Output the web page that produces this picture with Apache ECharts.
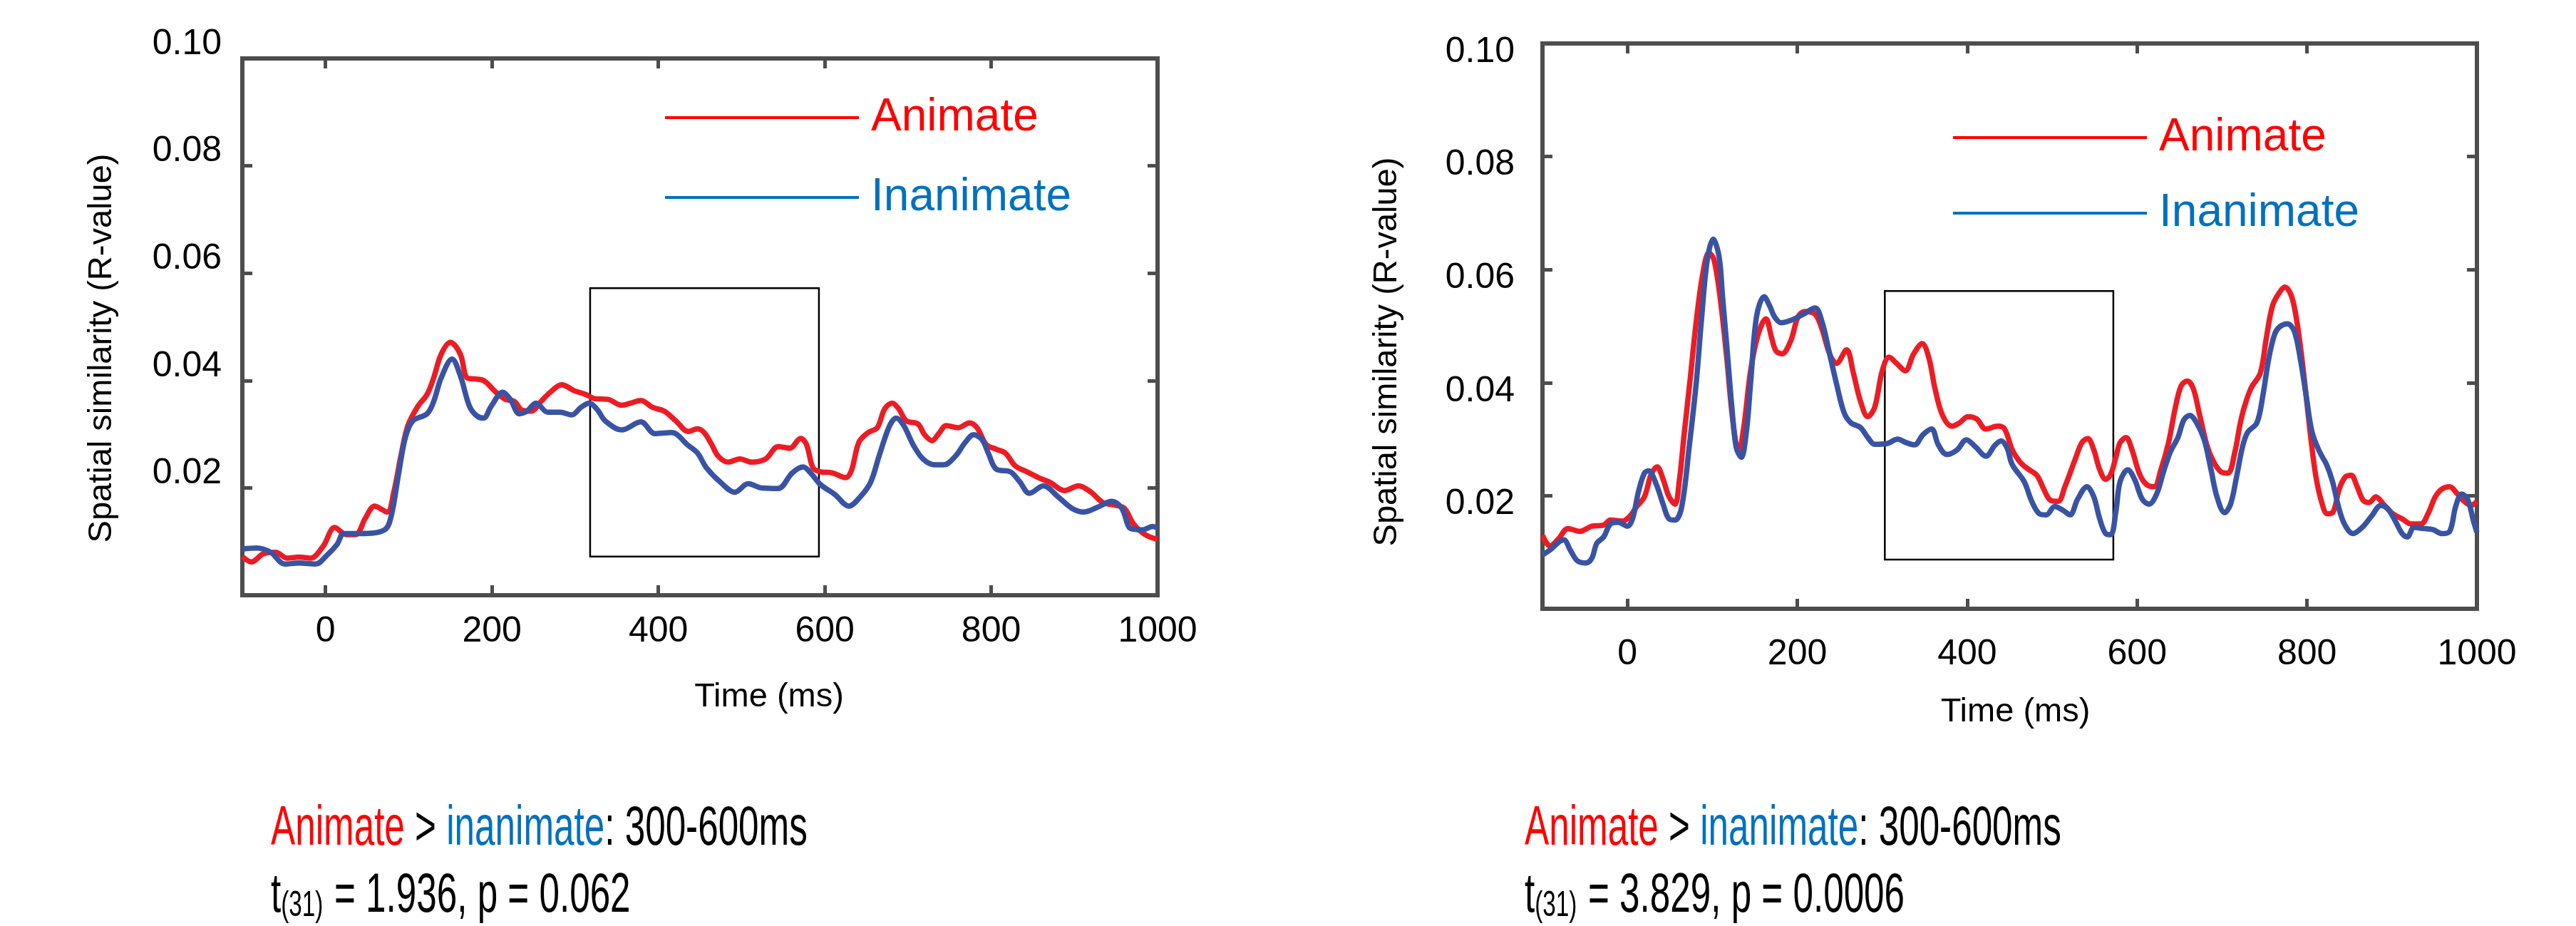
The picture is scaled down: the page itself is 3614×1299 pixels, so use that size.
<!DOCTYPE html>
<html>
<head>
<meta charset="utf-8">
<script src="https://cdn.jsdelivr.net/npm/echarts@6/dist/echarts.min.js"></script>
<style>
  html, body { margin: 0; padding: 0; background: #fff; }
  #main { width: 3614px; height: 1299px; }
</style>
</head>
<body>
<div id="main"></div>
<script>
// ---- data ----
var xTicks = [0, 200, 400, 600, 800, 1000];

// left panel
var leftAnimateT = [-100, -89, -75, -60, -46, -32, -18, -3, 11, 25, 36, 48, 59, 74, 82, 91, 99, 111, 122, 130, 139, 150, 162, 170, 179, 190, 205, 216, 227, 236, 247, 259, 270, 284, 299, 313, 324, 339, 356, 367, 379, 393, 407, 421, 436, 447, 455, 464, 472, 484, 498, 512, 529, 544, 558, 571, 578, 586, 595, 609, 625, 632, 641, 652, 663, 672, 681, 689, 698, 712, 720, 729, 737, 746, 760, 774, 783, 794, 806, 817, 829, 843, 857, 871, 888, 905, 920, 934, 948, 960, 971, 985, 1000];
var leftAnimate = [0.0072, 0.0062, 0.0077, 0.0080, 0.0069, 0.0071, 0.0069, 0.0091, 0.0126, 0.0113, 0.0113, 0.0144, 0.0166, 0.0155, 0.0192, 0.0263, 0.0316, 0.0352, 0.0374, 0.0405, 0.0449, 0.0471, 0.0449, 0.0405, 0.0403, 0.0400, 0.0378, 0.0365, 0.0361, 0.0345, 0.0343, 0.0361, 0.0378, 0.0392, 0.0381, 0.0374, 0.0366, 0.0365, 0.0354, 0.0358, 0.0363, 0.0350, 0.0343, 0.0325, 0.0305, 0.0310, 0.0303, 0.0281, 0.0259, 0.0248, 0.0254, 0.0248, 0.0254, 0.0277, 0.0274, 0.0292, 0.0281, 0.0237, 0.0230, 0.0228, 0.0219, 0.0232, 0.0285, 0.0303, 0.0312, 0.0347, 0.0358, 0.0347, 0.0325, 0.0319, 0.0299, 0.0288, 0.0301, 0.0316, 0.0312, 0.0321, 0.0312, 0.0281, 0.0272, 0.0265, 0.0241, 0.0230, 0.0219, 0.0210, 0.0195, 0.0204, 0.0192, 0.0173, 0.0168, 0.0162, 0.0133, 0.0113, 0.0104];
var leftInanimateT = [-100, -83, -66, -49, -32, -12, 2, 14, 22, 42, 71, 79, 88, 96, 105, 122, 130, 139, 152, 162, 173, 182, 190, 199, 213, 222, 233, 242, 253, 267, 282, 296, 307, 317, 327, 336, 356, 379, 396, 416, 436, 447, 458, 475, 492, 508, 524, 544, 561, 574, 584, 595, 612, 629, 643, 655, 666, 678, 686, 695, 706, 718, 732, 743, 757, 769, 779, 789, 797, 806, 823, 834, 846, 863, 880, 897, 911, 928, 945, 957, 968, 982, 994, 1000];
var leftInanimate = [0.0086, 0.0088, 0.0080, 0.0058, 0.0060, 0.0058, 0.0075, 0.0095, 0.0115, 0.0115, 0.0122, 0.0148, 0.0228, 0.0294, 0.0325, 0.0338, 0.0361, 0.0405, 0.0440, 0.0409, 0.0352, 0.0334, 0.0330, 0.0352, 0.0378, 0.0365, 0.0338, 0.0343, 0.0358, 0.0341, 0.0341, 0.0336, 0.0350, 0.0358, 0.0345, 0.0325, 0.0308, 0.0323, 0.0301, 0.0303, 0.0279, 0.0265, 0.0237, 0.0210, 0.0192, 0.0208, 0.0200, 0.0199, 0.0228, 0.0239, 0.0226, 0.0206, 0.0188, 0.0166, 0.0184, 0.0210, 0.0263, 0.0316, 0.0330, 0.0316, 0.0281, 0.0254, 0.0243, 0.0243, 0.0259, 0.0285, 0.0299, 0.0290, 0.0263, 0.0235, 0.0230, 0.0212, 0.0190, 0.0204, 0.0184, 0.0162, 0.0155, 0.0164, 0.0175, 0.0162, 0.0124, 0.0122, 0.0128, 0.0125];
var leftWindow = [318, 593, 0.0072, 0.0572];   // t0, t1, r0, r1
var leftStats = ['1.936', '0.062'];           // t(31), p

// right panel
var rightAnimateT = [-100, -91, -81, -70, -56, -42, -28, -20, -6, 3, 11, 20, 28, 35, 42, 49, 56, 61, 67, 74, 81, 89, 96, 102, 109, 117, 124, 131, 137, 145, 154, 163, 170, 175, 182, 192, 201, 209, 221, 229, 238, 246, 258, 266, 274, 283, 291, 300, 308, 317, 327, 337, 347, 355, 362, 371, 382, 391, 401, 411, 422, 436, 444, 453, 462, 470, 482, 490, 498, 507, 515, 527, 535, 542, 549, 556, 563, 569, 575, 580, 587, 594, 603, 611, 620, 628, 637, 645, 652, 659, 666, 673, 682, 690, 699, 707, 715, 721, 726, 734, 745, 752, 759, 766, 774, 782, 789, 796, 803, 810, 817, 824, 831, 838, 845, 852, 859, 866, 873, 881, 890, 901, 912, 923, 934, 943, 951, 959, 968, 976, 985, 993, 1000];
var rightAnimate = [0.0130, 0.0111, 0.0124, 0.0142, 0.0137, 0.0146, 0.0148, 0.0157, 0.0155, 0.0164, 0.0181, 0.0198, 0.0238, 0.0251, 0.0229, 0.0198, 0.0185, 0.0225, 0.0312, 0.0408, 0.0508, 0.0595, 0.0630, 0.0617, 0.0552, 0.0443, 0.0334, 0.0277, 0.0321, 0.0421, 0.0486, 0.0513, 0.0478, 0.0456, 0.0451, 0.0473, 0.0517, 0.0526, 0.0521, 0.0495, 0.0451, 0.0434, 0.0458, 0.0417, 0.0369, 0.0340, 0.0356, 0.0421, 0.0445, 0.0434, 0.0421, 0.0451, 0.0469, 0.0443, 0.0390, 0.0342, 0.0323, 0.0329, 0.0340, 0.0336, 0.0318, 0.0323, 0.0318, 0.0281, 0.0260, 0.0249, 0.0236, 0.0212, 0.0192, 0.0190, 0.0216, 0.0264, 0.0294, 0.0301, 0.0281, 0.0246, 0.0229, 0.0238, 0.0268, 0.0294, 0.0303, 0.0281, 0.0238, 0.0220, 0.0216, 0.0246, 0.0294, 0.0356, 0.0395, 0.0403, 0.0390, 0.0347, 0.0290, 0.0260, 0.0242, 0.0240, 0.0277, 0.0325, 0.0356, 0.0390, 0.0417, 0.0478, 0.0534, 0.0556, 0.0569, 0.0552, 0.0499, 0.0417, 0.0321, 0.0238, 0.0190, 0.0168, 0.0172, 0.0212, 0.0233, 0.0236, 0.0216, 0.0192, 0.0188, 0.0198, 0.0185, 0.0168, 0.0159, 0.0150, 0.0150, 0.0170, 0.0198, 0.0212, 0.0216, 0.0205, 0.0190, 0.0183, 0.0190];
var rightInanimateT = [-100, -92, -75, -67, -59, -49, -42, -36, -28, -20, -11, 0, 6, 13, 20, 25, 34, 42, 49, 56, 64, 73, 81, 87, 94, 101, 108, 112, 117, 123, 128, 134, 140, 145, 152, 161, 168, 173, 181, 192, 207, 221, 229, 238, 246, 255, 263, 274, 283, 291, 305, 318, 328, 338, 348, 358, 366, 376, 388, 399, 410, 422, 433, 440, 447, 453, 467, 476, 485, 493, 503, 513, 521, 530, 541, 549, 556, 563, 569, 575, 580, 589, 597, 606, 614, 623, 631, 639, 648, 655, 662, 670, 679, 687, 694, 703, 710, 717, 724, 730, 741, 748, 755, 762, 768, 777, 785, 792, 799, 806, 815, 823, 830, 837, 844, 854, 865, 876, 887, 895, 904, 912, 918, 926, 937, 948, 959, 968, 975, 982, 989, 996, 1000];
var rightInanimate = [0.0095, 0.0103, 0.0122, 0.0103, 0.0085, 0.0081, 0.0089, 0.0116, 0.0127, 0.0150, 0.0153, 0.0146, 0.0159, 0.0207, 0.0240, 0.0244, 0.0220, 0.0185, 0.0159, 0.0157, 0.0181, 0.0290, 0.0399, 0.0508, 0.0617, 0.0654, 0.0622, 0.0552, 0.0465, 0.0356, 0.0286, 0.0268, 0.0312, 0.0399, 0.0517, 0.0552, 0.0534, 0.0517, 0.0506, 0.0510, 0.0521, 0.0532, 0.0508, 0.0451, 0.0399, 0.0347, 0.0329, 0.0321, 0.0303, 0.0291, 0.0292, 0.0300, 0.0294, 0.0290, 0.0308, 0.0318, 0.0290, 0.0273, 0.0281, 0.0299, 0.0286, 0.0270, 0.0290, 0.0297, 0.0284, 0.0255, 0.0225, 0.0190, 0.0168, 0.0166, 0.0181, 0.0174, 0.0166, 0.0194, 0.0216, 0.0198, 0.0159, 0.0133, 0.0131, 0.0172, 0.0225, 0.0246, 0.0229, 0.0194, 0.0185, 0.0203, 0.0242, 0.0277, 0.0303, 0.0334, 0.0342, 0.0329, 0.0299, 0.0246, 0.0198, 0.0170, 0.0185, 0.0233, 0.0286, 0.0312, 0.0329, 0.0377, 0.0443, 0.0486, 0.0499, 0.0504, 0.0491, 0.0443, 0.0377, 0.0312, 0.0277, 0.0255, 0.0225, 0.0181, 0.0150, 0.0133, 0.0144, 0.0164, 0.0183, 0.0177, 0.0155, 0.0133, 0.0127, 0.0144, 0.0142, 0.0140, 0.0133, 0.0137, 0.0181, 0.0203, 0.0194, 0.0155, 0.0135];
var rightWindow = [303, 572, 0.0087, 0.0562];
var rightStats = ['3.829', '0.0006'];

var FONT = '"Liberation Sans", Arial, Helvetica, sans-serif';
var RED = '#ed1c24', BLUE = '#3953a4';
var LEG_RED = '#ff0000', LEG_BLUE = '#0070c0';
var AXIS = '#4d4d4d';

function zip(ts, vs) {
    return ts.map(function(t, i) { return [t, vs[i]]; });
}

function windowArea(w) {
    return {
        silent: true,
        itemStyle: { color: 'rgba(0,0,0,0)', borderColor: '#000', borderWidth: 2.5 },
        data: [[{ coord: [w[0], w[3]] }, { coord: [w[1], w[2]] }]]
    };
}

function xAxes(gridIndex, nameShift, nameGap, labelMargin) {
    var tick = { show: true, inside: true, length: 14, lineStyle: { color: AXIS, width: 5 }, customValues: xTicks };
    return [{
        type: 'value', gridIndex: gridIndex, position: 'bottom', min: -100, max: 1000,
        name: 'Time (ms)', nameLocation: 'middle', nameGap: nameGap,
        nameTextStyle: { fontFamily: FONT, fontSize: 47, color: '#000', padding: [0, 0, 0, nameShift] },
        axisLine: { show: false, onZero: false }, splitLine: { show: false },
        axisTick: tick,
        axisLabel: {
            customValues: xTicks, fontFamily: FONT, fontSize: 50, color: '#000', margin: labelMargin,
            formatter: function(v) { return String(v); }
        }
    }, {
        type: 'value', gridIndex: gridIndex, position: 'top', min: -100, max: 1000,
        axisLine: { show: false, onZero: false }, splitLine: { show: false },
        axisTick: tick, axisLabel: { show: false }
    }];
}

// vAlign/lineH nudge the tick labels a little off their ticks, as in the figure
function yAxes(gridIndex, labelMargin, vAlign, lineH, nameGap, nameShift) {
    var tick = { show: true, inside: true, length: 14, lineStyle: { color: AXIS, width: 5 } };
    return [{
        type: 'value', gridIndex: gridIndex, position: 'left', min: 0, max: 0.1, interval: 0.02,
        name: 'Spatial similarity (R-value)', nameLocation: 'middle', nameGap: nameGap,
        nameTextStyle: { fontFamily: FONT, fontSize: 47, color: '#000', padding: [0, nameShift, 0, 0] },
        axisLine: { show: false, onZero: false }, splitLine: { show: false },
        axisTick: tick,
        axisLabel: {
            fontFamily: FONT, fontSize: 50, color: '#000', margin: labelMargin,
            verticalAlign: vAlign, lineHeight: lineH,
            formatter: function(v) { return v === 0 ? '' : v.toFixed(2); }
        }
    }, {
        type: 'value', gridIndex: gridIndex, position: 'right', min: 0, max: 0.1, interval: 0.02,
        axisLine: { show: false, onZero: false }, splitLine: { show: false },
        axisTick: tick, axisLabel: { show: false }
    }];
}

function legendFor(left, top, gap) {
    return {
        orient: 'vertical', left: left, top: top, icon: 'rect',
        itemWidth: 272, itemHeight: 4, itemGap: gap, selectedMode: false,
        textStyle: { fontFamily: FONT, fontSize: 64, padding: [0, 0, 0, 12] },
        data: [
            { name: 'Animate', itemStyle: { color: LEG_RED }, textStyle: { color: LEG_RED } },
            { name: 'Inanimate', itemStyle: { color: LEG_BLUE }, textStyle: { color: LEG_BLUE } }
        ]
    };
}

function lineSeries(name, color, data, xi, yi, area) {
    var s = {
        name: name, type: 'line', xAxisIndex: xi, yAxisIndex: yi,
        data: data, smooth: 0.35, showSymbol: false, symbol: 'none',
        lineStyle: { color: color, width: 7.5 }, itemStyle: { color: color }
    };
    if (area) s.markArea = area;
    return s;
}

// the statistics under each panel are set in a condensed face: squeeze them horizontally
var BIG = 77;
var SQUEEZE = 0.665;
var rich = {
    r: { fill: '#ff0000', fontSize: BIG, fontFamily: FONT },
    b: { fill: '#0070c0', fontSize: BIG, fontFamily: FONT },
    k: { fill: '#000', fontSize: BIG, fontFamily: FONT },
    s: { fill: '#000', fontSize: 50, fontFamily: FONT, verticalAlign: 'bottom', padding: [0, 2, 0, 0] }
};

function statText(x, y1, y2, stats) {
    var base = { fontFamily: FONT, fontSize: BIG, verticalAlign: 'middle', align: 'left', rich: rich };
    return [{
        type: 'text', x: x, y: y1, scaleX: SQUEEZE, silent: true,
        style: Object.assign({ text: '{r|Animate}{k| > }{b|inanimate}{k|: 300-600ms}' }, base)
    }, {
        type: 'text', x: x, y: y2, scaleX: SQUEEZE, silent: true,
        style: Object.assign({ text: '{k|t}{s|(31)}{k| = ' + stats[0] + ', p = ' + stats[1] + '}' }, base)
    }];
}

var chart = echarts.init(document.getElementById('main'));
window.addEventListener('resize', chart.resize);

var option = {
    backgroundColor: '#fff',
    animation: false,
    graphic: statText(380, 1164, 1258, leftStats).concat(statText(2139, 1164, 1258, rightStats)),
    legend: [legendFor(928, 128, 48), legendFor(2735, 156, 42)],
    grid: [
        { left: 340, top: 82, width: 1284, height: 753, show: true, borderColor: AXIS, borderWidth: 6, backgroundColor: 'transparent' },
        { left: 2164, top: 61, width: 1311, height: 793, show: true, borderColor: AXIS, borderWidth: 6, backgroundColor: 'transparent' }
    ],
    xAxis: xAxes(0, 194, 120, 26).concat(xAxes(1, 16, 122, 39)),
    yAxis: yAxes(0, 29, 'bottom', 40, 173, 60).concat(yAxes(1, 39, 'top', 24, 194, 72)),
    series: [
        lineSeries('Animate', RED, zip(leftAnimateT, leftAnimate), 0, 0, windowArea(leftWindow)),
        lineSeries('Inanimate', BLUE, zip(leftInanimateT, leftInanimate), 0, 0),
        lineSeries('Animate', RED, zip(rightAnimateT, rightAnimate), 2, 2, windowArea(rightWindow)),
        lineSeries('Inanimate', BLUE, zip(rightInanimateT, rightInanimate), 2, 2)
    ]
};
chart.setOption(option);
</script>
</body>
</html>
